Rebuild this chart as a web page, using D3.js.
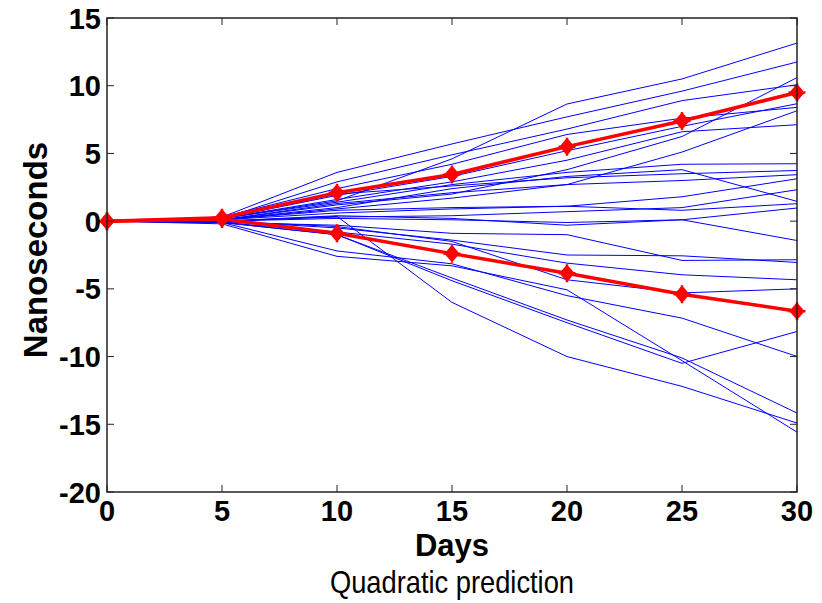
<!DOCTYPE html>
<meta charset="utf-8">
<style>
body { margin: 0; background: white; }
svg text { font-family: "Liberation Sans", Arial, sans-serif; }
</style>
<body>
<script src="https://d3js.org/d3.v7.min.js"></script>
<script>
var width = 822,
    height = 603;

// days along x
var days = [0, 5, 10, 15, 20, 25, 30];
var xTicks = [0, 5, 10, 15, 20, 25, 30];
var yTicks = [-20, -15, -10, -5, 0, 5, 10, 15];

// individual predictions (ns), one row per run
var runs = [
  [0, 0.2, 1.5, 4.6, 8.65, 10.5, 13.15],
  [0, 0.3, 3.6, 5.7, 7.7, 9.6, 11.75],
  [0, 0.1, 1.2, 2.0, 3.8, 6.25, 10.6],
  [0, 0.2, 2.9, 4.9, 6.8, 8.9, 10.07],
  [0, 0.2, 1.9, 3.3, 5.2, 7.0, 8.67],
  [0, 0.3, 2.4, 4.2, 6.4, 7.6, 8.4],
  [0, 0.1, 0.9, 1.7, 2.7, 5.1, 8.15],
  [0, 0.2, 1.6, 2.9, 4.5, 6.6, 7.12],
  [0, 0.2, 1.4, 2.7, 3.6, 4.2, 4.24],
  [0, 0.2, 2.0, 2.6, 3.2, 3.5, 3.74],
  [0, 0.1, 1.0, 2.4, 3.3, 3.8, 1.46],
  [0, 0.1, 1.3, 2.1, 2.7, 3.0, 3.43],
  [0, 0.1, 0.6, 0.9, 1.1, 1.8, 3.13],
  [0, 0.0, 0.3, 0.4, 0.7, 1.0, 2.32],
  [0, 0.1, 0.8, 1.0, 1.1, 0.8, 1.29],
  [0, 0.0, 0.2, 0.1, -0.1, 0.1, 0.97],
  [0, 0.0, 0.4, 0.2, -0.3, 0.1, -1.43],
  [0, -0.1, -0.3, -0.9, -1.0, -2.9, -2.85],
  [0, 0.0, -0.5, -1.4, -2.5, -2.56, -3.05],
  [0, -0.1, -0.8, -1.7, -3.1, -3.96, -4.33],
  [0, 0.0, -0.4, -1.5, -4.33, -5.3, -5.0],
  [0, -0.1, -1.0, -4.4, -7.5, -10.5, -8.15],
  [0, -0.1, -2.2, -3.15, -5.5, -7.16, -9.99],
  [0, -0.1, -1.0, -4.2, -7.3, -10.1, -14.17],
  [0, -0.2, -2.6, -3.3, -5.07, -10.3, -15.58],
  [0, 0.0, 0.35, -6.0, -10.0, -12.2, -14.91]
];

// envelope (red)
var upper = [0, 0.25, 2.1, 3.45, 5.5, 7.4, 9.5];
var lower = [0, 0.15, -0.9, -2.4, -3.85, -5.4, -6.65];

var margin = {left: 107, right: 25, top: 18, bottom: 111};

var x = d3.scaleLinear().domain([0, 30]).range([margin.left, width - margin.right]);
var y = d3.scaleLinear().domain([-20, 15]).range([height - margin.bottom, margin.top]);

var svg = d3.select("body").append("svg")
    .attr("width", width)
    .attr("height", height);

var line = d3.line()
    .x(function(d, i) { return x(days[i]); })
    .y(function(d) { return y(d); });

svg.append("g").selectAll("path")
    .data(runs)
  .enter().append("path")
    .attr("d", line)
    .attr("fill", "none")
    .attr("stroke", "#0000ff")
    .attr("stroke-width", 1);

[upper, lower].forEach(function(s) {
  svg.append("path")
      .attr("d", line(s))
      .attr("fill", "none")
      .attr("stroke", "#ff0000")
      .attr("stroke-width", 3.5);

  svg.append("g").selectAll("path")
      .data(s)
    .enter().append("path")
      .attr("transform", function(d, i) { return "translate(" + x(days[i]) + "," + y(d) + ")"; })
      .attr("d", "M0,-7L6,0L0,7L-6,0Z M-8.5,0H8.5 M0,-9V9")
      .attr("fill", "#ff0000")
      .attr("stroke", "#ff0000")
      .attr("stroke-width", 2.5);
});

// box + inward ticks
var x0 = x.range()[0], x1 = x.range()[1], y0 = y.range()[0], y1 = y.range()[1];

svg.append("rect")
    .attr("x", x0).attr("y", y1)
    .attr("width", x1 - x0).attr("height", y0 - y1)
    .attr("fill", "none")
    .attr("stroke", "#222")
    .attr("stroke-width", 1.5);

var tl = 7;
var ticks = svg.append("g").attr("stroke", "#222").attr("stroke-width", 1);
xTicks.forEach(function(t) {
  ticks.append("line").attr("x1", x(t)).attr("x2", x(t)).attr("y1", y0).attr("y2", y0 - tl);
  ticks.append("line").attr("x1", x(t)).attr("x2", x(t)).attr("y1", y1).attr("y2", y1 + tl);
});
yTicks.forEach(function(t) {
  ticks.append("line").attr("x1", x0).attr("x2", x0 + tl).attr("y1", y(t)).attr("y2", y(t));
  ticks.append("line").attr("x1", x1).attr("x2", x1 - tl).attr("y1", y(t)).attr("y2", y(t));
});

svg.append("g").selectAll("text")
    .data(xTicks)
  .enter().append("text")
    .attr("x", function(d) { return x(d); })
    .attr("y", y0 + 29)
    .attr("text-anchor", "middle")
    .attr("font-size", 29)
    .attr("font-weight", "bold")
    .text(function(d) { return d; });

svg.append("g").selectAll("text")
    .data(yTicks)
  .enter().append("text")
    .attr("x", x0 - 6)
    .attr("y", function(d) { return y(d) + 10.5; })
    .attr("text-anchor", "end")
    .attr("font-size", 29)
    .attr("font-weight", "bold")
    .text(function(d) { return d; });

svg.append("text")
    .attr("x", (x0 + x1) / 2)
    .attr("y", 556)
    .attr("text-anchor", "middle")
    .attr("font-size", 31)
    .attr("font-weight", "bold")
    .text("Days");

svg.append("text")
    .attr("transform", "translate(47,250) rotate(-90)")
    .attr("text-anchor", "middle")
    .attr("font-size", 33)
    .attr("font-weight", "bold")
    .text("Nanoseconds");

svg.append("text")
    .attr("transform", "translate(" + ((x0 + x1) / 2) + ",593) scale(0.88,1)")
    .attr("text-anchor", "middle")
    .attr("font-size", 31)
    .text("Quadratic prediction");
</script>
</body>
</html>
